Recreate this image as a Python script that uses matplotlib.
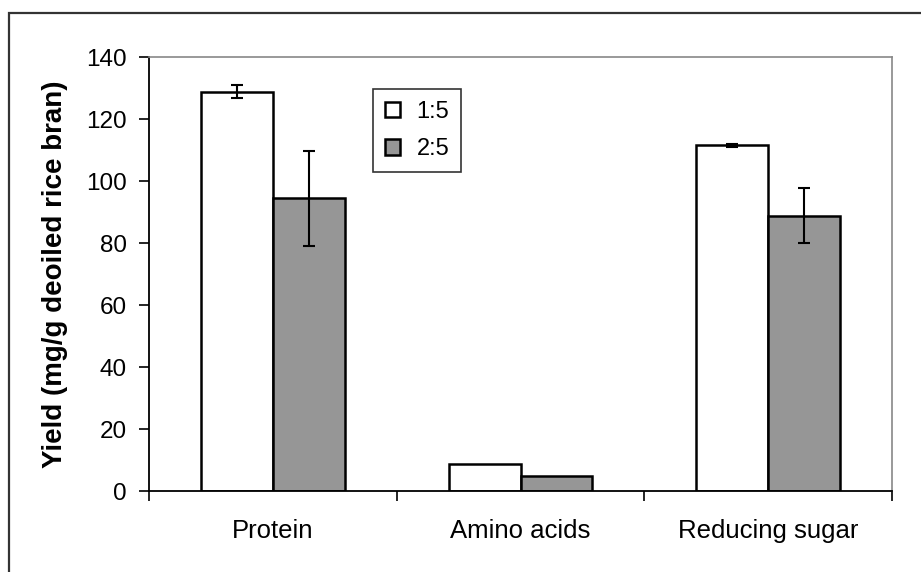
import numpy as np
import matplotlib
matplotlib.use('Agg')
import matplotlib.pyplot as plt
from matplotlib.patches import Rectangle

plt.rcParams['font.family'] = ['Liberation Sans', 'DejaVu Sans']

categories = ['Protein', 'Amino acids', 'Reducing sugar']
series_names = ['1:5', '2:5']
yield_1_5 = [128.8, 8.7, 111.5]
err_1_5 = [2.1, np.nan, 0.5]   # no error bar shown for amino acids
yield_2_5 = [94.4, 4.8, 88.8]
err_2_5 = [15.4, np.nan, 8.9]
y_ticks = [0, 20, 40, 60, 80, 100, 120, 140]

fig = plt.figure(figsize=(9.21, 5.72), dpi=100)
# outer frame (runs off the right and bottom edges)
fig.patches.append(Rectangle((9 / 921, -0.05), 1.2, 1 - 13 / 572 + 0.05,
                             transform=fig.transFigure, fill=False,
                             edgecolor='#333333', linewidth=1.6))

ax = fig.add_axes([149 / 921, 1 - 491 / 572, (892 - 149) / 921, (491 - 57) / 572])

x = np.arange(len(categories))
w = 0.29
ekw = dict(elinewidth=1.5, capthick=1.5, ecolor='black')
b1 = ax.bar(x - w / 2, yield_1_5, w, color='white', edgecolor='black',
            linewidth=1.8, yerr=err_1_5, capsize=4.5, error_kw=ekw, label=series_names[0])
b2 = ax.bar(x + w / 2, yield_2_5, w, color='#969696', edgecolor='black',
            linewidth=1.8, yerr=err_2_5, capsize=4.5, error_kw=ekw, label=series_names[1])

ax.set_xlim(-0.5, 2.5)
ax.set_ylim(0, 140)
ax.set_yticks(y_ticks)
ax.set_xticks(x)
ax.set_xticklabels(categories, fontsize=18.5)
ax.tick_params(axis='x', length=0, pad=20)
ax.set_xticks([-0.5, 0.5, 1.5, 2.5], minor=True)
ax.tick_params(axis='x', which='minor', length=7, width=1.2, direction='out')
ax.tick_params(axis='y', labelsize=17.5, length=7, width=1.2, direction='out', pad=9)

for s in ['left', 'bottom']:
    ax.spines[s].set_color('black')
    ax.spines[s].set_linewidth(1.3)
for s in ['top', 'right']:
    ax.spines[s].set_color('#888888')
    ax.spines[s].set_linewidth(1.2)

ax.set_ylabel('Yield (mg/g deoiled rice bran)', fontsize=20, fontweight='bold', labelpad=13)

leg = ax.legend(loc='upper left', bbox_to_anchor=((373 - 149) / 743, 1 - (89 - 57) / 434),
                fontsize=17, frameon=True, fancybox=False, edgecolor='black',
                handlelength=0.65, handleheight=0.65, handletextpad=0.7,
                borderpad=0.5, labelspacing=0.65, borderaxespad=0)
leg.get_frame().set_linewidth(1.2)

fig.savefig('out.png', dpi=100)
